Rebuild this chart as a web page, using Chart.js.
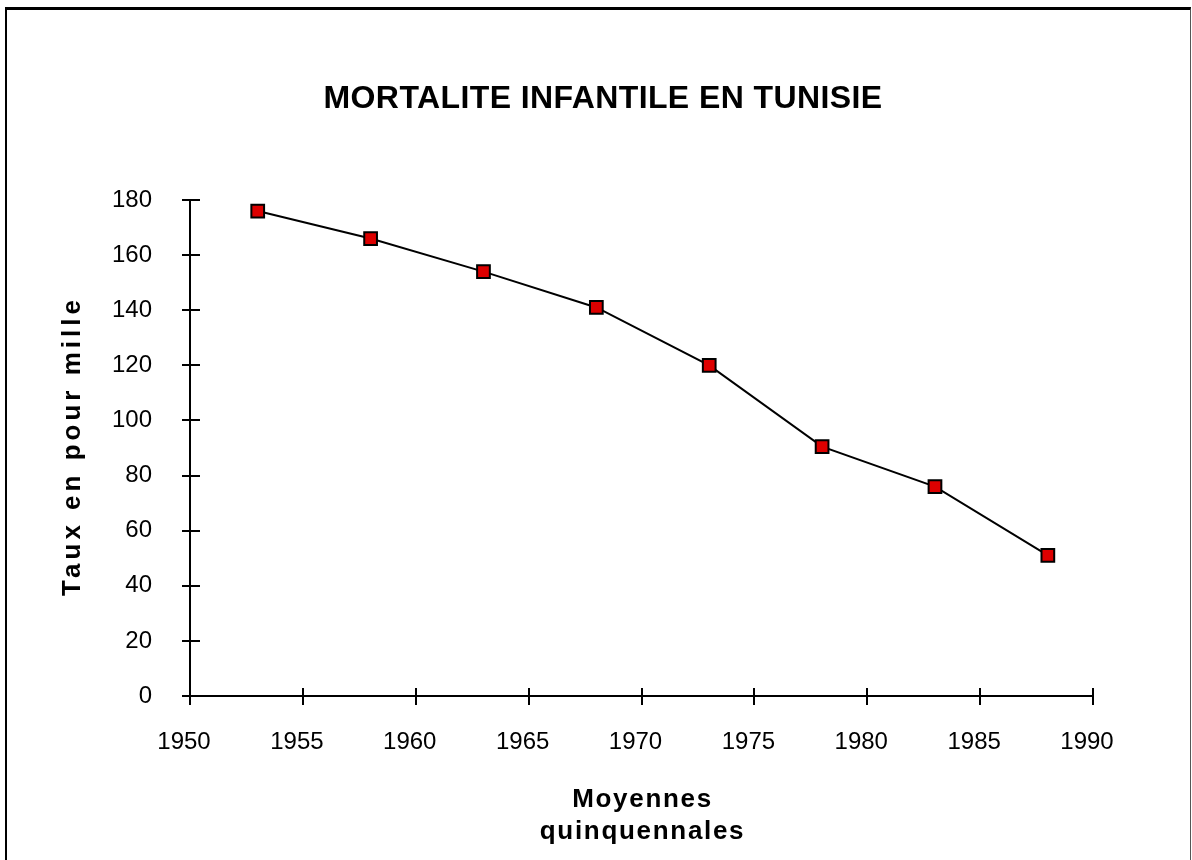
<!DOCTYPE html>
<html>
<head>
<meta charset="utf-8">
<script src="https://cdn.jsdelivr.net/npm/chart.js@4/dist/chart.umd.min.js"></script>
<style>
  html, body { margin: 0; padding: 0; background: #fff; }
  #wrap { position: relative; width: 1192px; height: 860px; overflow: hidden; }
  #frame {
    position: absolute; left: 5px; top: 7px; right: 1px; height: 900px;
    border-left: 2px solid #000; border-top: 3px solid #000; border-right: 1px solid #555;
    pointer-events: none;
  }
</style>
</head>
<body>
<div id="wrap">
  <canvas id="chart"></canvas>
  <div id="frame"></div>
</div>
<script>
// data
var years = [1953, 1958, 1963, 1968, 1973, 1978, 1983, 1988];
var rates = [176, 166, 154, 141, 120, 90.5, 76, 51];

var chartTitle = "MORTALITE INFANTILE EN TUNISIE";
var xTitle = ["Moyennes", "quinquennales"];
var yTitle = "Taux en pour mille";

var FONT = '"Liberation Sans", Arial, sans-serif';

// titles drawn with letter spacing like the original
var titlesPlugin = {
  id: "titles",
  afterDraw: function (chart) {
    var ctx = chart.ctx;
    var area = chart.chartArea;
    ctx.save();
    ctx.fillStyle = "#000";
    ctx.textAlign = "center";
    ctx.textBaseline = "middle";

    ctx.font = "bold 32px " + FONT;
    ctx.letterSpacing = "0.4px";
    ctx.fillText(chartTitle, 603, 99);

    ctx.font = "bold 26px " + FONT;
    ctx.letterSpacing = "1.7px";
    var cx = (area.left + area.right) / 2 + 1;
    ctx.fillText(xTitle[0], cx, 800);
    ctx.fillText(xTitle[1], cx, 832);

    ctx.letterSpacing = "4px";
    ctx.translate(73, (area.top + area.bottom) / 2);
    ctx.rotate(-Math.PI / 2);
    ctx.fillText(yTitle, 2, 0);
    ctx.restore();
  },
};

var ctx = document.getElementById("chart").getContext("2d");
new Chart(ctx, {
  type: "line",
  data: {
    datasets: [
      {
        data: years.map(function (y, i) { return { x: y, y: rates[i] }; }),
        borderColor: "#000",
        borderWidth: 2,
        pointStyle: "rect",
        pointRadius: 9,
        pointBorderWidth: 2,
        pointBorderColor: "#000",
        pointBackgroundColor: "#dd0000",
        tension: 0,
        fill: false,
      },
    ],
  },
  options: {
    responsive: true,
    maintainAspectRatio: false,
    animation: false,
    layout: { padding: { left: 0, top: 200, right: 99, bottom: 0 } },
    plugins: {
      legend: { display: false },
      tooltip: { enabled: false },
      title: { display: false },
    },
    scales: {
      x: {
        type: "linear",
        min: 1950,
        max: 1990,
        afterFit: function (scale) { scale.height = 164; },
        ticks: {
          stepSize: 5,
          color: "#000",
          padding: 23,
          labelOffset: -6,
          maxRotation: 0,
          font: { family: FONT, size: 24 },
          callback: function (v) { return String(v); },
        },
        grid: {
          color: "#000",
          lineWidth: 2,
          tickLength: 9,
          tickColor: "#000",
          tickWidth: 2,
        },
        // short dash at the bottom end of each grid line = inner half of the tick
        border: { display: true, color: "#000", width: 2, dash: [8, 5000], dashOffset: 4520 },
      },
      y: {
        min: 0,
        max: 180,
        afterFit: function (scale) { scale.width = 190; },
        ticks: {
          stepSize: 20,
          color: "#000",
          padding: 30,
          font: { family: FONT, size: 24 },
        },
        grid: {
          color: "#000",
          lineWidth: 2,
          tickLength: 8,
          tickColor: "#000",
          tickWidth: 2,
        },
        border: { display: true, color: "#000", width: 2, dash: [9, 5000] },
      },
    },
  },
  plugins: [titlesPlugin],
});
</script>
</body>
</html>
